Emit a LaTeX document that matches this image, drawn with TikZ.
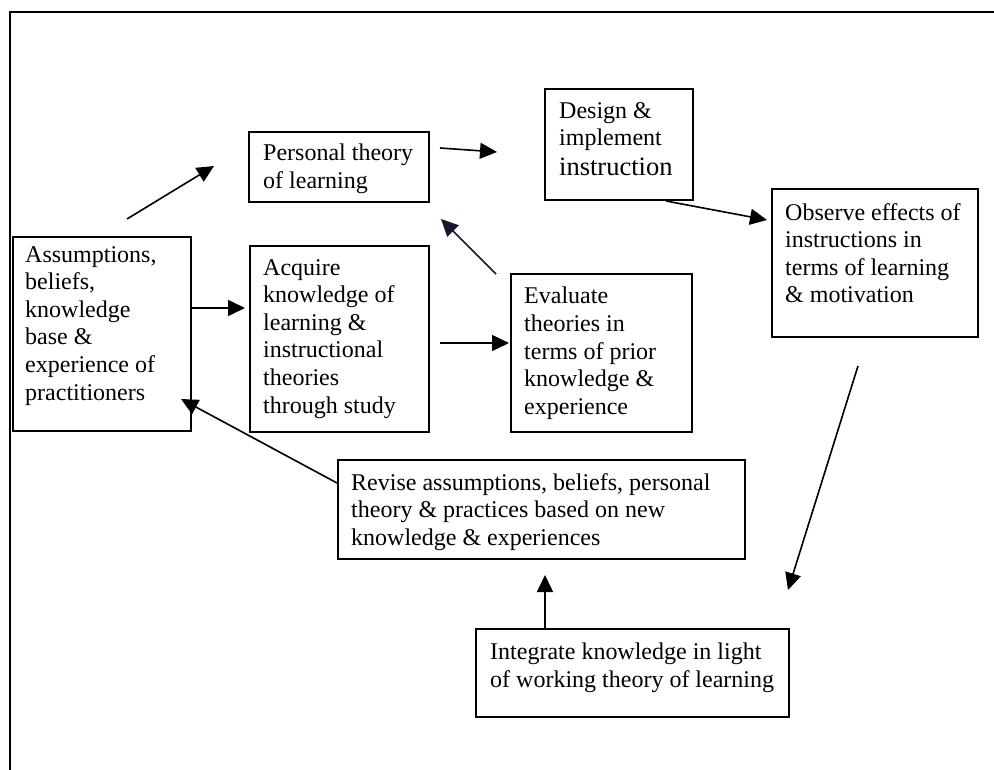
\documentclass[tikz,border=0pt]{standalone}
\usepackage{fontspec}
\setmainfont{Liberation Serif}
\usetikzlibrary{arrows.meta}
\definecolor{navy}{RGB}{22,22,48}
\tikzset{
  box/.style={draw=black, line width=2pt, inner sep=0pt, anchor=north west, fill=none},
  txt/.style={inner sep=0pt, anchor=north west, align=left, font=\fontsize{24}{27.6}\selectfont},
  arr/.style={line width=1.6pt, -{Triangle[length=17pt,width=16pt]}},
}
\begin{document}
\begin{tikzpicture}[x=1pt,y=-1pt]
\useasboundingbox (0,0) rectangle (994,770);
% outer frame (top and left)
\draw[line width=2.4pt] (10,770) -- (10,12) -- (994,12);

% boxes
\node[box, minimum width=178pt, minimum height=194pt] (A) at (12,236) {};
\node[box, minimum width=180pt, minimum height=70pt]  (P) at (248,131) {};
\node[box, minimum width=148pt, minimum height=111pt] (D) at (544,88) {};
\node[box, minimum width=206pt, minimum height=148pt] (O) at (771,188) {};
\node[box, minimum width=179pt, minimum height=186pt] (Q) at (249,245) {};
\node[box, minimum width=181pt, minimum height=158pt] (E) at (510,273) {};
\node[box, minimum width=407pt, minimum height=99pt]  (R) at (337,459) {};
\node[box, minimum width=313pt, minimum height=88pt]  (I) at (475,628) {};

% texts
\node[txt] (At) at (25,246) {Assumptions,\\beliefs,\\knowledge\\base \&\\experience of\\practitioners};
\node[txt] (Pt) at (263,144) {Personal theory\\of learning};
\node[txt] (Dt) at (559,102) {Design \&\\implement\\[2pt]{\fontsize{26.5}{27.6}\selectfont instruction}};
\node[txt] (Ot) at (785,203) {Observe effects of\\instructions in\\terms of learning\\\& motivation};
\node[txt] (Qt) at (263,259) {Acquire\\knowledge of\\learning \&\\instructional\\theories\\through study};
\node[txt] (Et) at (524,287) {Evaluate\\theories in\\terms of prior\\knowledge \&\\experience};
\node[txt] (Rt) at (351,473) {Revise assumptions, beliefs, personal\\theory \& practices based on new\\knowledge \& experiences};
\node[txt] (It) at (490,643) {Integrate knowledge in light\\of working theory of learning};

% connector end points
\coordinate (a1s) at (127,219); \coordinate (a1e) at (214,166);
\coordinate (a2s) at (440,148); \coordinate (a2e) at (497,152);
\coordinate (a3s) at (666,201); \coordinate (a3e) at (767,220);
\coordinate (a4s) at (496,274); \coordinate (a4e) at (441,219);
\coordinate (a5s) at (192,308); \coordinate (a5e) at (245,308);
\coordinate (a6s) at (440,343); \coordinate (a6e) at (509,343);
\coordinate (a7s) at (337,483); \coordinate (a7e) at (181,399);
\coordinate (a8s) at (858,366); \coordinate (a8e) at (788,590);
\coordinate (a9s) at (545,628); \coordinate (a9e) at (545,575);

% connectors
\draw[arr] (a1s) -- (a1e);
\draw[arr] (a2s) -- (a2e);
\draw[arr] (a3s) -- (a3e);
\draw[arr, draw=navy, fill=navy] (a4s) -- (a4e);
\draw[arr] (a5s) -- (a5e);
\draw[arr] (a6s) -- (a6e);
\draw[arr] (a7s) -- (a7e);
\draw[arr] (a8s) -- (a8e);
\draw[arr] (a9s) -- (a9e);
\end{tikzpicture}
\end{document}
